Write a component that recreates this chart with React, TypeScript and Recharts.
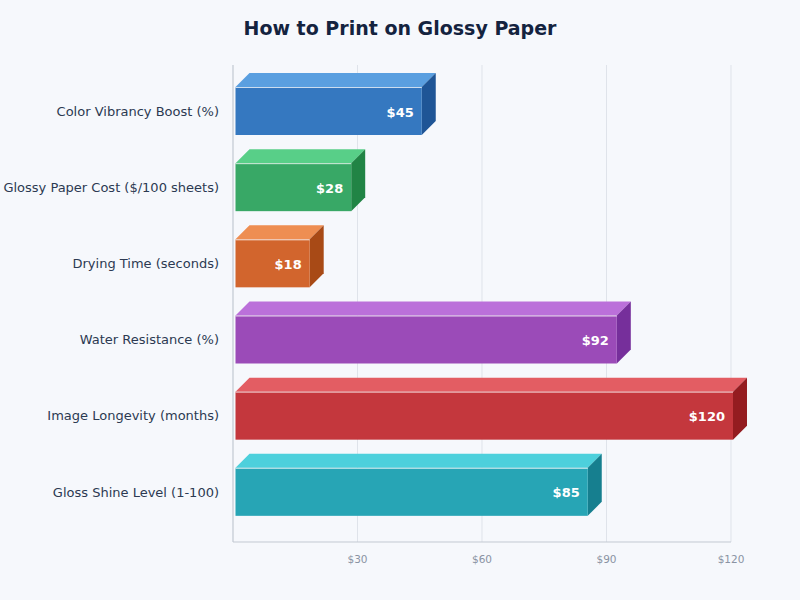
import { Bar, BarChart, CartesianGrid, XAxis, YAxis } from 'recharts';

const categories = [
  'Color Vibrancy Boost (%)',
  'Glossy Paper Cost ($/100 sheets)',
  'Drying Time (seconds)',
  'Water Resistance (%)',
  'Image Longevity (months)',
  'Gloss Shine Level (1-100)',
];
const values = [45, 28, 18, 92, 120, 85];
const xTicks = [30, 60, 90, 120];

const frontColors = ['#3578c0', '#38a866', '#d2652d', '#9b4bb8', '#c4373d', '#27a5b5'];
const topColors = ['#5a9fe0', '#58cf88', '#ee8e52', '#bb70da', '#e35d63', '#4dd0dc'];
const sideColors = ['#1f5596', '#218445', '#a84a16', '#762f9b', '#941c20', '#167f8f'];

const tableData = categories.map((name, i) => ({ name, value: values[i] }));

const DEPTH = 14;
const FONT = '"DejaVu Sans", sans-serif';

function Bar3D(props: any) {
  const { x, y, width, height, index, value } = props;
  const left = x + 2.5;
  const right = x + width + 2;
  const bottom = y + height;
  return (
    <g>
      <polygon
        points={`${left},${y} ${left + DEPTH},${y - DEPTH} ${right + DEPTH},${y - DEPTH} ${right},${y}`}
        fill={topColors[index]}
      />
      <polygon
        points={`${right},${y} ${right + DEPTH},${y - DEPTH} ${right + DEPTH},${bottom - DEPTH} ${right},${bottom}`}
        fill={sideColors[index]}
      />
      <rect x={left} y={y} width={right - left} height={height} fill={frontColors[index]} />
      <line x1={left} y1={y + 0.5} x2={right} y2={y + 0.5} stroke="#ffffff" strokeOpacity={0.75} strokeWidth={1} />
      <text
        x={right - 8}
        y={y + height / 2 + 2}
        textAnchor="end"
        dominantBaseline="middle"
        fill="#ffffff"
        fontFamily={FONT}
        fontSize={13}
        fontWeight={700}
      >
        ${value}
      </text>
    </g>
  );
}

export default function App() {
  return (
    <div style={{ position: 'absolute', left: 0, top: 0, width: 800, height: 600, background: '#f6f8fc' }}>
      <div
        style={{
          position: 'absolute',
          left: 0,
          top: 16,
          width: 800,
          textAlign: 'center',
          fontFamily: FONT,
          fontSize: 19,
          lineHeight: '24px',
          fontWeight: 700,
          color: '#14233f',
        }}
      >
        How to Print on Glossy Paper
      </div>
      <BarChart
        width={800}
        height={600}
        data={tableData}
        layout="vertical"
        barCategoryGap={14}
        margin={{ top: 65, right: 69, bottom: 30, left: 0 }}
      >
        <CartesianGrid horizontal={false} stroke="#dfe3ea" strokeWidth={1} />
        <XAxis
          type="number"
          domain={[0, 120]}
          ticks={xTicks}
          tickFormatter={(v: number) => `$${v}`}
          height={28}
          tickLine={false}
          tickMargin={8}
          axisLine={{ stroke: '#c3c9d2' }}
          tick={{ fill: '#8a93a3', fontSize: 10.5, fontFamily: FONT }}
        />
        <YAxis
          type="category"
          dataKey="name"
          width={233}
          interval={0}
          padding={{ top: 8, bottom: 12 }}
          tickLine={false}
          tickMargin={8}
          axisLine={{ stroke: '#c3c9d2' }}
          tick={{ fill: '#2c3a52', fontSize: 13, fontFamily: FONT }}
        />
        <Bar dataKey="value" isAnimationActive={false} shape={Bar3D} />
      </BarChart>
    </div>
  );
}
